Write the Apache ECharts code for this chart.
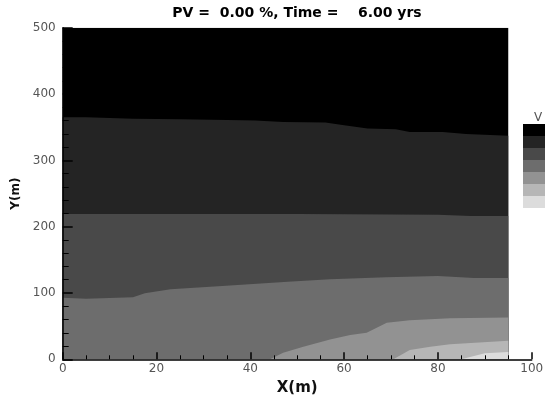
<!DOCTYPE html>
<html><head><meta charset="utf-8">
<script src="https://cdn.jsdelivr.net/npm/echarts@6/dist/echarts.min.js"></script>
<style>html,body{margin:0;padding:0;background:#fff}#c{width:545px;height:395px}</style>
</head><body><div id="c"></div>
<script>
// ---- data ----
const titleText = 'PV =  0.00 %, Time =    6.00 yrs';
const legendTitle = 'V';
// contour boundaries [x, y] (upper edge of each band, band fills down to y = 0)
const bandTop   = [[0, 500], [95, 500]];
const boundary1 = [[0, 365], [5, 365], [15, 363], [25, 362], [35, 361], [41, 360], [47, 358], [56, 357], [60, 353], [65, 348], [71, 347], [74, 343], [81, 343], [86, 340], [95, 337]];
const boundary2 = [[0, 219], [50, 219], [80, 218], [87, 216], [95, 216]];
const boundary3 = [[0, 93], [5, 91.5], [15, 93.5], [17.5, 99.5], [23, 105.6], [34, 110.6], [48, 117], [57, 120.6], [69, 123.6], [80, 125.6], [87.7, 122.6], [95, 122.6]];
const boundary4 = [[44.2, 0], [47, 10], [51.3, 19], [57, 30], [61.3, 36.7], [64.8, 40], [66.2, 45], [69.1, 55], [74, 59], [82.6, 62], [95, 63]];
const boundary5 = [[70.5, 0], [74, 14], [78.4, 19], [82.6, 22.6], [89.7, 25.6], [95, 28]];
const boundary6 = [[85, 0], [90, 9], [95, 11]];
const levels = [7, 6, 5, 4, 3, 2, 1];

// ---- styles ----
const bandColors = ['#000000', '#242424', '#494949', '#6d6d6d', '#929292', '#b6b6b6', '#dcdcdc'];
const boundaries = [bandTop, boundary1, boundary2, boundary3, boundary4, boundary5, boundary6];

const series = boundaries.map((b, i) => ({
  type: 'line',
  data: b,
  showSymbol: false,
  symbol: 'none',
  silent: true,
  lineStyle: { width: 0, opacity: 0 },
  areaStyle: { color: bandColors[i], opacity: 1, origin: 'start' },
  z: 2 + i
}));
series.push({ type: 'scatter', data: [], silent: true });

const pieces = levels.slice().reverse().map((lv) => ({
  min: lv - 1, max: lv, color: bandColors[levels.indexOf(lv)]
}));

const chart = echarts.init(document.getElementById('c'), null, { renderer: 'canvas' });
chart.setOption({
  animation: false,
  backgroundColor: '#ffffff',
  title: {
    text: titleText,
    left: 297, top: 6, padding: 0,
    textAlign: 'center',
    textStyle: { fontFamily: 'DejaVu Sans', fontWeight: 'bold', fontSize: 14, color: '#000' }
  },
  grid: { left: 62.7, right: 13.3, top: 27.8, bottom: 35.7, containLabel: false, outerBoundsMode: 'none' },
  xAxis: {
    type: 'value', min: 0, max: 100, interval: 20, z: 10,
    name: 'X(m)', nameLocation: 'middle', nameGap: 15,
    nameTextStyle: { fontFamily: 'DejaVu Sans', fontWeight: 'bold', fontSize: 15, color: '#111' },
    axisLine: { show: true, lineStyle: { color: '#000', width: 1.5 } },
    axisTick: { show: true, inside: true, length: 7, lineStyle: { color: '#000', width: 1.5 } },
    minorTick: { show: true, splitNumber: 4, length: 4, lineStyle: { color: '#000', width: 1 } },
    axisLabel: { margin: 4, fontFamily: 'DejaVu Sans', fontSize: 12, color: '#555' },
    splitLine: { show: false }
  },
  yAxis: {
    type: 'value', min: 0, max: 500, interval: 100, z: 10,
    name: 'Y(m)', nameLocation: 'middle', nameGap: 40, nameRotate: 90,
    nameTextStyle: { fontFamily: 'DejaVu Sans', fontWeight: 'bold', fontSize: 12, color: '#111' },
    axisLine: { show: true, lineStyle: { color: '#000', width: 1.5 } },
    axisTick: { show: true, inside: true, length: 10, lineStyle: { color: '#000', width: 1.5 } },
    minorTick: { show: true, splitNumber: 5, length: 6, lineStyle: { color: '#000', width: 1 } },
    axisLabel: { margin: 7, fontFamily: 'DejaVu Sans', fontSize: 12, color: '#555' },
    splitLine: { show: false }
  },
  visualMap: {
    type: 'piecewise',
    seriesIndex: 7,
    orient: 'vertical',
    left: 523, top: 112, padding: 0,
    itemWidth: 30, itemHeight: 12, itemGap: 0,
    itemSymbol: 'rect',
    showLabel: false,
    text: [legendTitle, ''],
    textStyle: { fontFamily: 'DejaVu Sans', fontSize: 12, color: '#555' },
    pieces: pieces
  },
  series: series
});
</script></body></html>
